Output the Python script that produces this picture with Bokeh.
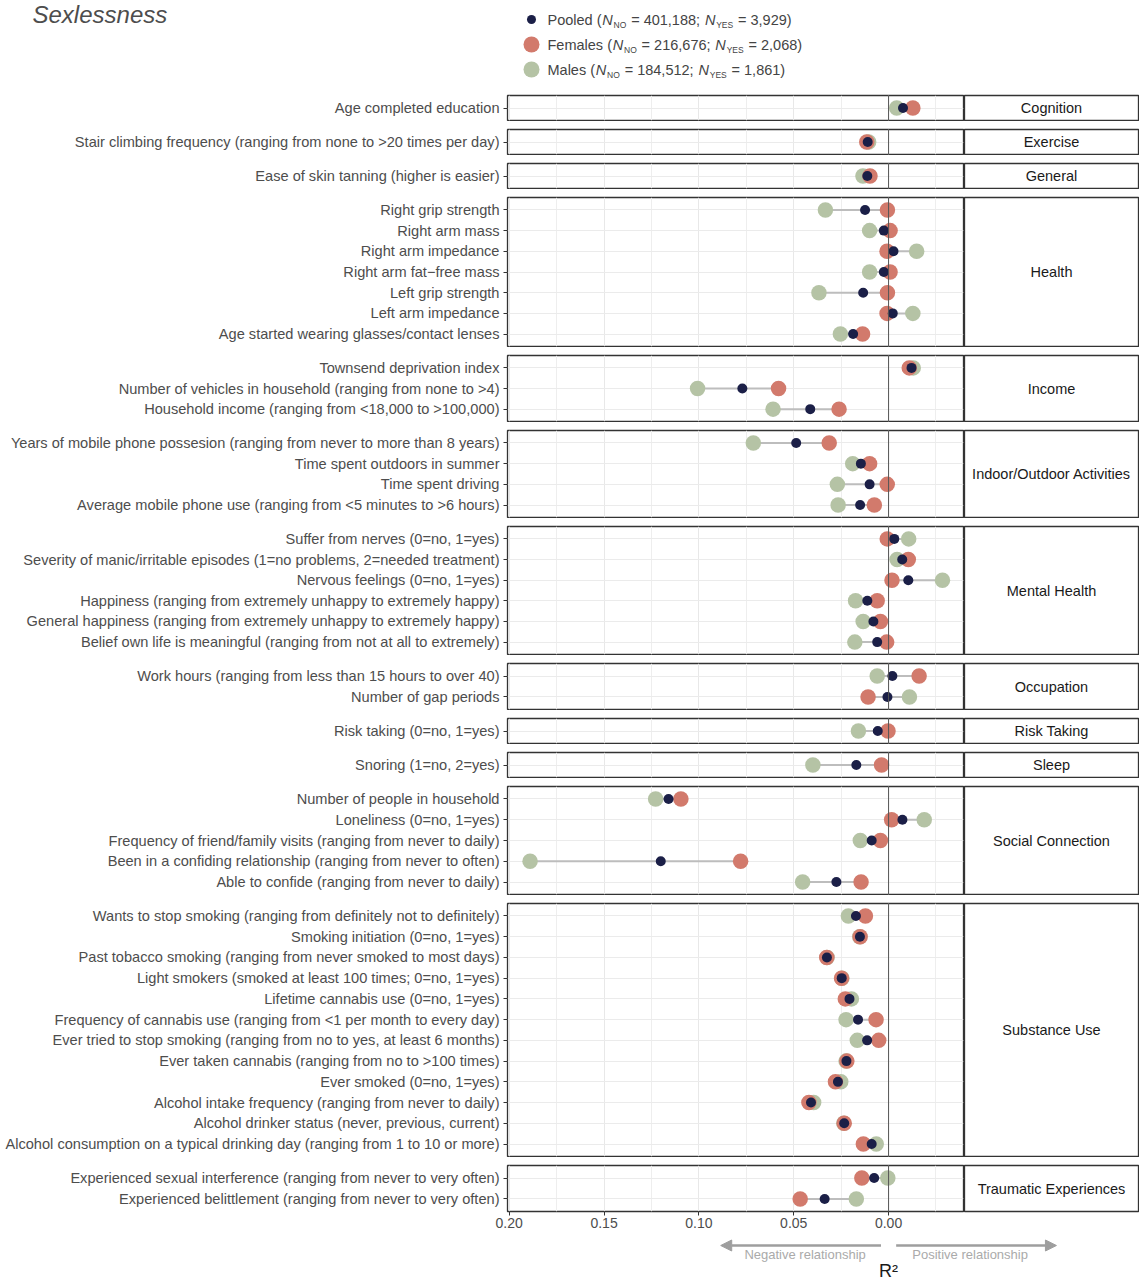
from bokeh.plotting import figure
from bokeh.models import (Range1d, FixedTicker, ColumnDataSource, Arrow, NormalHead,
                          PrintfTickFormatter, Span)
from bokeh.layouts import column, row
from bokeh.embed import file_html
from bokeh.resources import INLINE
from bokeh.core.properties import value

# ---------------- data ----------------
title_text = "Sexlessness"
x_label = "R\u00b2"
neg_text = "Negative relationship"
pos_text = "Positive relationship"

facets = ["Cognition", "Exercise", "General", "Health", "Income",
          "Indoor/Outdoor Activities", "Mental Health", "Occupation",
          "Risk Taking", "Sleep", "Social Connection", "Substance Use",
          "Traumatic Experiences"]

item_facet = (["Cognition"] + ["Exercise"] + ["General"] + ["Health"] * 7 +
              ["Income"] * 3 + ["Indoor/Outdoor Activities"] * 4 +
              ["Mental Health"] * 6 + ["Occupation"] * 2 + ["Risk Taking"] +
              ["Sleep"] + ["Social Connection"] * 5 + ["Substance Use"] * 12 +
              ["Traumatic Experiences"] * 2)

item_label = [
    "Age completed education",
    "Stair climbing frequency (ranging from none to >20 times per day)",
    "Ease of skin tanning (higher is easier)",
    "Right grip strength",
    "Right arm mass",
    "Right arm impedance",
    "Right arm fat\u2212free mass",
    "Left grip strength",
    "Left arm impedance",
    "Age started wearing glasses/contact lenses",
    "Townsend deprivation index",
    "Number of vehicles in household (ranging from none to >4)",
    "Household income (ranging from <18,000 to >100,000)",
    "Years of mobile phone possesion (ranging from never to more than 8 years)",
    "Time spent outdoors in summer",
    "Time spent driving",
    "Average mobile phone use (ranging from <5 minutes to >6 hours)",
    "Suffer from nerves (0=no, 1=yes)",
    "Severity of manic/irritable episodes (1=no problems, 2=needed treatment)",
    "Nervous feelings (0=no, 1=yes)",
    "Happiness (ranging from extremely unhappy to extremely happy)",
    "General happiness (ranging from extremely unhappy to extremely happy)",
    "Belief own life is meaningful (ranging from not at all to extremely)",
    "Work hours (ranging from less than 15 hours to over 40)",
    "Number of gap periods",
    "Risk taking (0=no, 1=yes)",
    "Snoring (1=no, 2=yes)",
    "Number of people in household",
    "Loneliness (0=no, 1=yes)",
    "Frequency of friend/family visits (ranging from never to daily)",
    "Been in a confiding relationship (ranging from never to often)",
    "Able to confide (ranging from never to daily)",
    "Wants to stop smoking (ranging from definitely not to definitely)",
    "Smoking initiation (0=no, 1=yes)",
    "Past tobacco smoking (ranging from never smoked to most days)",
    "Light smokers (smoked at least 100 times; 0=no, 1=yes)",
    "Lifetime cannabis use (0=no, 1=yes)",
    "Frequency of cannabis use (ranging from <1 per month to every day)",
    "Ever tried to stop smoking (ranging from no to yes, at least 6 months)",
    "Ever taken cannabis (ranging from no to >100 times)",
    "Ever smoked (0=no, 1=yes)",
    "Alcohol intake frequency (ranging from never to daily)",
    "Alcohol drinker status (never, previous, current)",
    "Alcohol consumption on a typical drinking day (ranging from 1 to 10 or more)",
    "Experienced sexual interference (ranging from never to very often)",
    "Experienced belittlement (ranging from never to very often)",
]

# R2 values on the (reversed) axis: positive = negative relationship
pooled = [-0.0076, 0.0110, 0.0112,
          0.0124, 0.0025, -0.0026, 0.0025, 0.0134, -0.0022, 0.0187,
          -0.0121, 0.0771, 0.0413,
          0.0487, 0.0146, 0.0100, 0.0150,
          -0.0030, -0.0072, -0.0104, 0.0112, 0.0080, 0.0060,
          -0.0020, 0.0006,
          0.0057,
          0.0170,
          0.1160, -0.0073, 0.0089, 0.1201, 0.0275,
          0.0172, 0.0151, 0.0325, 0.0247, 0.0206, 0.0161, 0.0113, 0.0222,
          0.0267, 0.0409, 0.0234, 0.0089,
          0.0076, 0.0337]
females = [-0.0128, 0.0115, 0.0098,
           0.0006, -0.0008, 0.0008, -0.0008, 0.0006, 0.0008, 0.0137,
           -0.0109, 0.0580, 0.0261,
           0.0313, 0.0100, 0.0007, 0.0075,
           0.0007, -0.0104, -0.0018, 0.0060, 0.0043, 0.0010,
           -0.0161, 0.0108,
           0.0003,
           0.0037,
           0.1095, -0.0016, 0.0043, 0.0780, 0.0145,
           0.0122, 0.0150, 0.0326, 0.0248, 0.0228, 0.0066, 0.0052, 0.0220,
           0.0280, 0.0420, 0.0234, 0.0133,
           0.0141, 0.0466]
males = [-0.0043, 0.0105, 0.0135,
         0.0333, 0.0100, -0.0148, 0.0100, 0.0367, -0.0128, 0.0254,
         -0.0130, 0.1007, 0.0609,
         0.0713, 0.0189, 0.0270, 0.0266,
         -0.0106, -0.0045, -0.0284, 0.0174, 0.0134, 0.0178,
         0.0060, -0.0110,
         0.0159,
         0.0399,
         0.1228, -0.0188, 0.0149, 0.1890, 0.0453,
         0.0212, 0.0152, 0.0324, 0.0246, 0.0196, 0.0224, 0.0165, 0.0224,
         0.0252, 0.0395, 0.0236, 0.0065,
         0.0004, 0.0170]

legend_names = ["Pooled", "Females", "Males"]
legend_n_no = ["401,188", "216,676", "184,512"]
legend_n_yes = ["3,929", "2,068", "1,861"]

x_ticks = [0.20, 0.15, 0.10, 0.05, 0.00]
x_minor = [0.175, 0.125, 0.075, 0.025, -0.025]

# ---------------- style ----------------
FONT = value("Liberation Sans")
C_POOL = "#1b1f47"
C_FEM = "#d27a6c"
C_MAL = "#b5c3a5"
C_SEG = "#bdbdbd"
C_TXT = "#4d4d4d"
X_START, X_END = 0.2009, -0.0395
LEFT = 507
PANEL_W = 456
STRIP_W = 175
TOTAL_W = LEFT + PANEL_W + 1 + STRIP_W
UNIT = 20.7
HEADER_H = 94
GAP = 7
AXIS_H = 24
FOOT_H = 45

AW = {' ': 278, '(': 333, ')': 333, ',': 278, ';': 278, '=': 584, 'P': 667, 'o': 556,
      'l': 222, 'e': 556, 'd': 556, 'F': 611, 'm': 833, 'a': 556, 's': 500, 'M': 833,
      'N': 722, 'O': 778, 'Y': 667, 'E': 667, 'S': 667}


def tw(s, size):
    return sum(AW.get(c, 556) for c in s) * size / 1000.0


# ---------------- header ----------------
header = figure(width=TOTAL_W, height=HEADER_H, x_range=Range1d(0, TOTAL_W),
                y_range=Range1d(HEADER_H, 0), x_axis_location=None, y_axis_location=None,
                toolbar_location=None, output_backend="svg", min_border=0)
header.frame_align = False
header.grid.visible = False
header.outline_line_color = None
header.text(x=[32], y=[0], text=[title_text], text_font=FONT, text_font_size="24px",
            text_font_style="italic", text_color=C_TXT, text_baseline="top")

leg_y = [19, 44, 69]
leg_col = [C_POOL, C_FEM, C_MAL]
leg_size = [9, 16, 16]
FS, SFS = 14.5, 8.5
for i in range(3):
    y = leg_y[i]
    header.scatter(x=[531], y=[y], size=leg_size[i], color=leg_col[i], line_color=None)
    x = 547
    pieces = [(legend_names[i] + " (", "normal", FS, 0),
              ("N", "italic", FS, 0), ("NO", "normal", SFS, 5),
              (" = " + legend_n_no[i] + "; ", "normal", FS, 0),
              ("N", "italic", FS, 0), ("YES", "normal", SFS, 5),
              (" = " + legend_n_yes[i] + ")", "normal", FS, 0)]
    for s, style, fs, dy in pieces:
        lead = len(s) - len(s.lstrip(" "))
        x += tw(" " * lead, fs)
        core = s.strip(" ")
        header.text(x=[x], y=[y + dy], text=[core], text_font=FONT,
                    text_font_size=f"{fs}px", text_font_style=style,
                    text_color="#444444", text_baseline="middle")
        x += tw(s.lstrip(" "), fs) + 0.8

# ---------------- facets ----------------
rows = []
for k, fac in enumerate(facets):
    idx = [i for i, f in enumerate(item_facet) if f == fac]
    n = len(idx)
    ys = [n - j for j in range(n)]
    p_vals = [pooled[i] for i in idx]
    f_vals = [females[i] for i in idx]
    m_vals = [males[i] for i in idx]
    src = ColumnDataSource(dict(
        y=ys, pooled=p_vals, females=f_vals, males=m_vals,
        lo=[min(a, b, c) for a, b, c in zip(p_vals, f_vals, m_vals)],
        hi=[max(a, b, c) for a, b, c in zip(p_vals, f_vals, m_vals)]))
    last = (k == len(facets) - 1)
    ph = int(round((n + 0.2) * UNIT))
    bottom = AXIS_H if last else 1
    fh = ph + 1 + bottom
    p = figure(width=LEFT + PANEL_W + 1, height=fh,
               x_range=Range1d(X_START, X_END), y_range=Range1d(0.4, n + 0.6),
               x_axis_location="below" if last else None, y_axis_location="left",
               toolbar_location=None, output_backend="svg",
               min_border_left=LEFT, min_border_right=1, min_border_top=1,
               min_border_bottom=bottom)
    p.background_fill_color = "white"
    p.border_fill_color = "white"
    p.outline_line_color = "#333333"
    p.outline_line_width = 1.3

    p.xgrid.ticker = FixedTicker(ticks=x_ticks, minor_ticks=x_minor)
    p.xgrid.grid_line_color = "#e8e8e8"
    p.xgrid.grid_line_width = 1
    p.xgrid.minor_grid_line_color = "#eeeeee"
    p.xgrid.minor_grid_line_width = 1
    p.yaxis.ticker = FixedTicker(ticks=ys)
    p.yaxis.major_label_overrides = {y: item_label[i] for y, i in zip(ys, idx)}
    p.ygrid.grid_line_color = "#ebebeb"
    p.ygrid.grid_line_width = 1.2

    for ax in p.yaxis:
        ax.axis_line_color = None
        ax.major_tick_out = 4
        ax.major_tick_in = 0
        ax.minor_tick_line_color = None
        ax.major_tick_line_color = "#333333"
        ax.major_label_standoff = 4
        ax.major_label_text_font = "Liberation Sans"
        ax.major_label_text_font_size = "14.6px"
        ax.major_label_text_color = C_TXT
    if last:
        for ax in p.xaxis:
            ax.ticker = FixedTicker(ticks=x_ticks)
            ax.formatter = PrintfTickFormatter(format="%.2f")
            ax.axis_line_color = None
            ax.major_tick_out = 4
            ax.major_tick_in = 0
            ax.minor_tick_line_color = None
            ax.major_tick_line_color = "#333333"
            ax.major_label_standoff = 2
            ax.major_label_text_font = "Liberation Sans"
            ax.major_label_text_font_size = "14px"
            ax.major_label_text_color = C_TXT

    p.add_layout(Span(location=0, dimension="height", line_color="#555555", line_width=1))
    p.segment(x0="lo", y0="y", x1="hi", y1="y", source=src, line_color=C_SEG, line_width=2)
    p.scatter(x="males", y="y", source=src, size=15.5, color=C_MAL, line_color=None)
    p.scatter(x="females", y="y", source=src, size=15.5, color=C_FEM, line_color=None)
    p.scatter(x="pooled", y="y", source=src, size=10, color=C_POOL, line_color=None)

    s = figure(width=STRIP_W, height=fh, x_range=Range1d(0, 1), y_range=Range1d(0, 1),
               x_axis_location=None, y_axis_location=None, toolbar_location=None,
               output_backend="svg", min_border_left=0, min_border_right=1,
               min_border_top=1, min_border_bottom=bottom)
    s.grid.visible = False
    s.outline_line_color = "#333333"
    s.outline_line_width = 1.3
    s.text(x=[0.5], y=[0.5], text=[fac], text_font=FONT, text_font_size="14.5px",
           text_color="#1a1a1a", text_align="center", text_baseline="middle")
    rows.append(row(p, s, spacing=0))

facets_col = column(*rows, spacing=GAP)

# ---------------- footer ----------------
upp = (X_START - X_END) / PANEL_W
foot_w = TOTAL_W - LEFT
footer = figure(width=TOTAL_W, height=FOOT_H,
                x_range=Range1d(X_START, X_START - foot_w * upp), y_range=Range1d(FOOT_H, 0),
                x_axis_location=None, y_axis_location=None, toolbar_location=None,
                output_backend="svg", min_border_left=LEFT, min_border_right=0,
                min_border_top=0, min_border_bottom=0)
footer.frame_align = False
footer.grid.visible = False
footer.outline_line_color = None
A_COL = "#9e9e9e"
footer.add_layout(Arrow(x_start=0.004, y_start=10, x_end=0.0885, y_end=10, line_color=A_COL,
                        line_width=2.5, end=NormalHead(size=11, fill_color=A_COL,
                                                       line_color=A_COL)))
footer.add_layout(Arrow(x_start=-0.004, y_start=10, x_end=-0.0885, y_end=10, line_color=A_COL,
                        line_width=2.5, end=NormalHead(size=11, fill_color=A_COL,
                                                       line_color=A_COL)))
footer.text(x=[0.044, -0.043], y=[19, 19], text=[neg_text, pos_text], text_font=FONT,
            text_font_size="13px", text_color="#aaaaaa", text_align="center",
            text_baseline="middle")
footer.text(x=[0.0], y=[35], text=[x_label], text_font=FONT, text_font_size="18px",
            text_color="#1a1a1a", text_align="center", text_baseline="middle")

layout = column(header, facets_col, footer, spacing=0)
open("out.html", "w").write(file_html(layout, INLINE))
